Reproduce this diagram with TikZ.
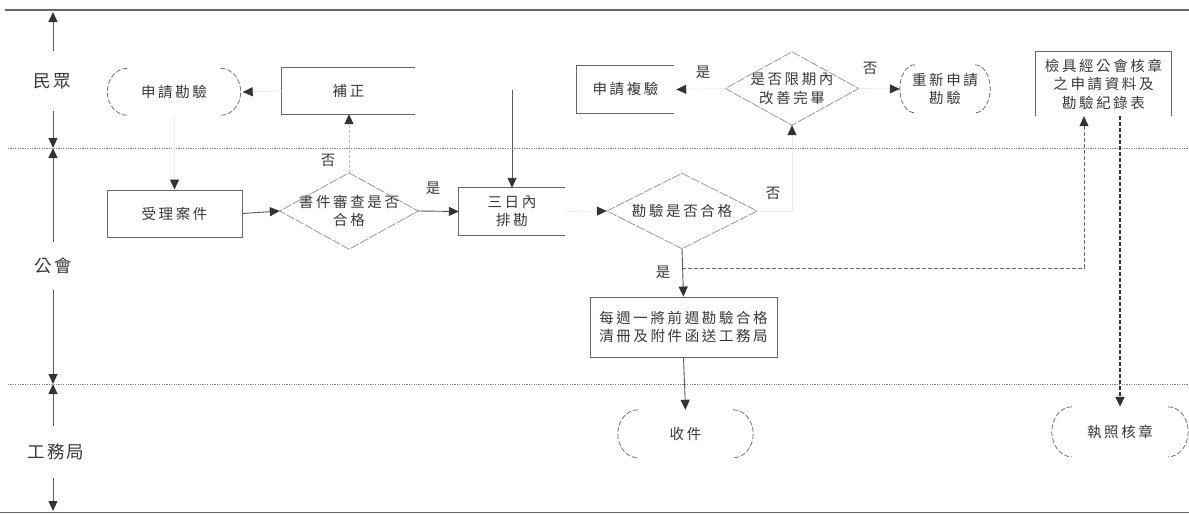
\documentclass[tikz,border=0pt]{standalone}
\usepackage{fontspec}
\newfontfamily\cjk[LetterSpace=18]{Noto Sans CJK TC}
\newfontfamily\cjklane[LetterSpace=12]{Noto Sans CJK TC}
\usetikzlibrary{arrows.meta}
\begin{document}
\begin{tikzpicture}[x=1pt,y=-1pt,
  txt/.style={font=\cjk\fontsize{14.5}{18.5}\selectfont, text=black!78, align=center, inner sep=0pt},
  lane/.style={font=\cjklane\fontsize{17.5}{20}\selectfont, text=black!78, inner sep=0pt},
  nd/.style={txt, rectangle, minimum width=#1},
  boxline/.style={draw=black!60, line width=0.9pt},
  arcline/.style={draw=black!55, line width=0.8pt, dash pattern=on 5pt off 2pt},
  dia/.style={draw=black!45, line width=0.7pt, dash pattern=on 9pt off 1.5pt},
  tip/.style={-{Triangle[length=10pt,width=9pt,color=black!80]}},
  conn/.style={tip, draw=black!65, line width=0.9pt},
  faint/.style={tip, draw=black!7, line width=0.8pt},
  fdash/.style={tip, draw=black!25, line width=0.8pt, dash pattern=on 3pt off 2pt},
  gdash/.style={tip, draw=black!60, line width=0.8pt, dash pattern=on 4pt off 2pt},
  tdash/.style={tip, draw=black!80, line width=1.8pt, dash pattern=on 4pt off 2pt},
  ax/.style={tip, draw=black!65, line width=1pt},
  laneline/.style={draw=black!50, line width=0.8pt, dash pattern=on 1.2pt off 1.2pt},
  border/.style={draw=black!60, line width=1.2pt}
]
\useasboundingbox (0,0) rectangle (1189,514);

% borders and lane separators
\draw[border] (5,10) -- (1189,10);
\draw[border] (0,512.5) -- (1189,512.5);
\draw[laneline] (8,148) -- (1189,148);
\draw[laneline] (8,384) -- (1189,384);

% lane labels and axis arrows
\coordinate (laneTop) at (53,12);
\coordinate (lane1) at (53,148);
\coordinate (lane2) at (53,384);
\coordinate (laneBot) at (53,511);
\node[lane, minimum height=60] (L1) at (52,81) {民眾};
\node[lane, minimum height=48] (L2) at (53,266) {公會};
\node[lane, minimum height=52] (L3) at (56,452) {工務局};
\draw[ax] (L1.north -| laneTop) -- (laneTop);
\draw[ax] (L1.south -| laneTop) -- (lane1);
\draw[ax] (L2.north -| laneTop) -- (lane1);
\draw[ax] (L2.south -| laneTop) -- (lane2);
\draw[ax] (L3.north -| laneTop) -- (lane2);
\draw[ax] (L3.south -| laneTop) -- (laneBot);

% nodes
\node[nd=133, minimum height=47] (t1) at (174,92) {申請勘驗};
\node[nd=133, minimum height=46] (bz) at (348.5,91) {補正};
\node[nd=135, minimum height=47, draw=black!60, line width=0.9pt] (ac) at (174.5,213.5) {受理案件};
\node[nd=138, minimum height=76] (d1) at (349,211) {書件審查是否\\合格};
\node[nd=106, minimum height=47] (tri) at (512,211.5) {三日內\\排勘};
\node[nd=150, minimum height=75] (d2) at (682,211) {勘驗是否合格};
\node[nd=187, minimum height=60, draw=black!60, line width=0.9pt] (wk) at (683.5,327) {每週一將前週勘驗合格\\清冊及附件函送工務局};
\node[nd=135, minimum height=48] (rc) at (685.5,434) {收件};
\node[nd=136, minimum height=50] (lic) at (1120,432) {執照核章};
\node[nd=135, minimum height=64] (chk) at (1103.5,84) {檢具經公會核章\\之申請資料及\\勘驗紀錄表};
\node[nd=97, minimum height=47] (fy) at (625.5,89.5) {申請複驗};
\node[nd=133, minimum height=73] (d3) at (792,88.5) {是否限期內\\改善完畢};
\node[nd=90, minimum height=48] (re) at (945,89) {重新申請\\勘驗};

% open boxes
\draw[boxline] (bz.north east) -- (bz.north west) -- (bz.south west) -- (bz.south east);
\draw[boxline] (tri.north east) -- (tri.north west) -- (tri.south west) -- (tri.south east);
\draw[boxline] (fy.north east) -- (fy.north west) -- (fy.south west) -- (fy.south east);
\draw[boxline] (chk.south west) -- (chk.north west) -- (chk.north east) -- (chk.south east);

% diamonds
\foreach \d in {d1,d2,d3}
  \draw[dia] (\d.north) -- (\d.east) -- (\d.south) -- (\d.west) -- cycle;

% terminals (arcs only)
\foreach \n/\rx/\ry in {t1/20/23.5, rc/20/24, lic/20/25, re/15/24}{
  \draw[arcline] ([xshift=\rx pt]\n.north west) arc[start angle=90, end angle=270, x radius=\rx pt, y radius=\ry pt];
  \draw[arcline] ([xshift=-\rx pt]\n.north east) arc[start angle=90, end angle=-90, x radius=\rx pt, y radius=\ry pt];
}

% labels
\node[txt] (lab1) at (328,160) {否};
\node[txt] (lab2) at (433,188) {是};
\node[txt] (lab3) at (773,193) {否};
\node[txt] (lab4) at (663,272) {是};
\node[txt] (lab5) at (703,72) {是};
\node[txt] (lab6) at (870,68) {否};

% connectors
\coordinate (s0) at (512,90);
\coordinate (j1) at (682,268);
\draw[faint] (bz.west) -- ([xshift=2pt]t1.east);
\draw[faint] (t1.south -| ac.north) -- (ac.north);
\draw[conn] (ac.east) -- (d1.west);
\draw[fdash] (d1.north) -- (d1.north |- bz.south);
\draw[conn] (d1.east) -- (tri.west);
\draw[conn] (s0) -- (tri.north);
\draw[faint] (tri.east) -- (d2.west);
\draw[conn] (d2.south) -- (wk.north);
\draw[faint] (d2.east) -| (d3.south);
\draw[faint] (d3.west) -- ([xshift=2pt]fy.east);
\draw[faint] (d3.east) -- (re.west);
\draw[gdash] (j1) -| ([xshift=-19.5pt]chk.south);
\draw[tdash] (chk.south -| lic.north) -- (lic.north);
\draw[conn] (wk.south) -- (rc.north);
\end{tikzpicture}
\end{document}
